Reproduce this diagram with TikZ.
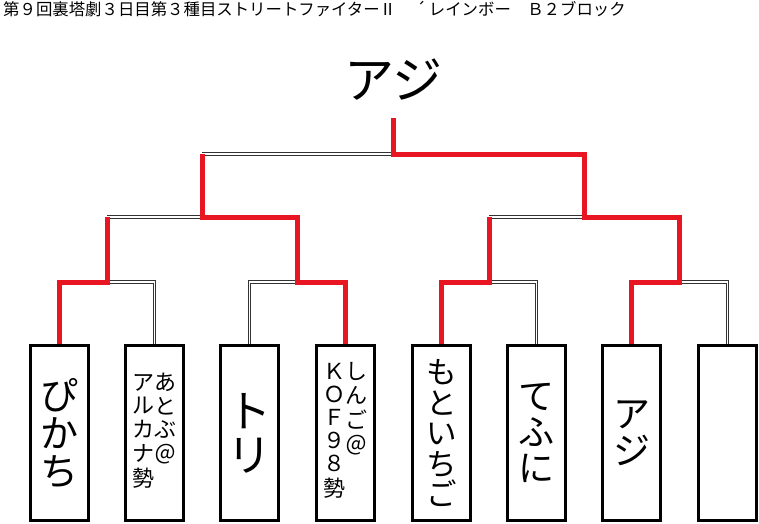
\documentclass[tikz,border=0pt]{standalone}
\usepackage{fontspec}
\setmainfont{Noto Sans CJK JP}
\usepackage{tikz}
\usetikzlibrary{positioning}
\definecolor{bracketred}{RGB}{232,22,34}
\newcommand{\tatecol}[1]{\begin{tabular}[t]{@{}c@{}}#1\end{tabular}}

\begin{document}
\begin{tikzpicture}[
        x=1pt, y=-1pt,
        player/.style={rectangle, draw, line width=3pt, minimum width=58pt, minimum height=175pt, inner sep=0pt},
        namesize/.style={font=\fontsize{#1}{#1}\selectfont},
        winner/.style={draw=bracketred, line width=5pt},
        loser/.style={draw=black!80, line width=1pt, double=white, double distance=1.5pt}
    ]
        \useasboundingbox (0,0) rectangle (759,523);

        \node[anchor=base west, namesize=16.4, inner sep=0pt] (title) at (3,15) {第９回裏塔劇３日目第３種目ストリートファイター\makebox[1em][r]{Ⅱ}\makebox[2em][r]{´\hspace{3pt}}レインボー　Ｂ２ブロック};
        \node[namesize=50] (champ) at (393,80) {アジ};

        % entrants
        \node[player, namesize=38, align=center] (p1) at (59.5,433) {ぴ\\か\\ち};
        \node[player, namesize=22] (p2) at (154.5,433) {\tatecol{ア\\ル\\カ\\ナ\\勢}\tatecol{あ\\と\\ぶ\\＠}};
        \node[player, namesize=44, align=center] (p3) at (249.5,433) {ト\\リ};
        \node[player, namesize=22] (p4) at (345.5,433) {\tatecol{Ｋ\\Ｏ\\Ｆ\\９\\８\\勢}\tatecol{し\\ん\\ご\\＠}};
        \node[player, namesize=30.5, align=center] (p5) at (441.5,433) {も\\と\\い\\ち\\ご};
        \node[player, namesize=36, align=center] (p6) at (536.5,433) {て\\ふ\\に};
        \node[player, namesize=37, align=center] (p7) at (631.5,433) {ア\\ジ};
        \node[player] (p8) at (727.5,433) {};

        % match points
        \coordinate (m1) at (107,282);
        \coordinate (m2) at (297.5,282);
        \coordinate (m3) at (489,282);
        \coordinate (m4) at (679.5,282);
        \coordinate (s1) at (202.25,217);
        \coordinate (s2) at (584.25,217);
        \coordinate (f) at (393.25,154);
        \coordinate (champfoot) at (393.25,118);

        % lost lines
        \draw[loser] (p2.north) |- (m1);
        \draw[loser] (p3.north) |- (m2);
        \draw[loser] (p6.north) |- (m3);
        \draw[loser] (p8.north) |- (m4);
        \draw[loser] (m1 |- s1) -- (s1);
        \draw[loser] (m3 |- s2) -- (s2);
        \draw[loser] (s1 |- f) -- (f);

        % won lines
        \draw[winner] (p1.north) |- (m1) -- (m1 |- s1);
        \draw[winner] (p4.north) |- (m2) |- (s1) -- (s1 |- f);
        \draw[winner] (p5.north) |- (m3) -- (m3 |- s2);
        \draw[winner] (p7.north) |- (m4) |- (s2) |- (f) -- (champfoot);
    \end{tikzpicture}
\end{document}
